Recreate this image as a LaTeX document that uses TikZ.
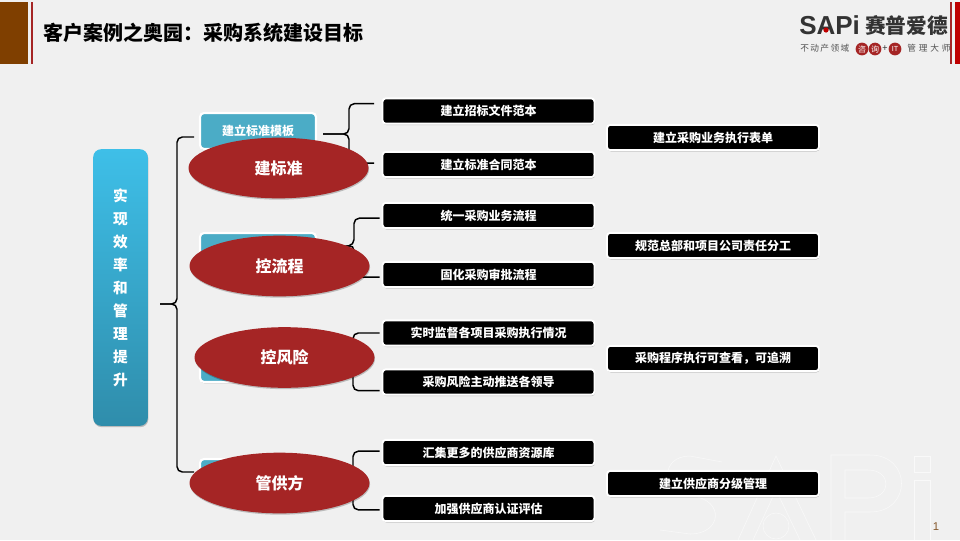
\documentclass[tikz,border=0pt]{standalone}
\usepackage{fontspec}
\setmainfont{Noto Sans CJK SC}
\setsansfont{Liberation Sans}
\usetikzlibrary{shadows,shapes.geometric,calc}
\definecolor{bgc}{HTML}{F0F0F0}
\definecolor{brownc}{HTML}{7F3F00}
\definecolor{redc}{HTML}{A52525}
\definecolor{tealc}{HTML}{4BACC6}
\definecolor{rooty}{HTML}{3EBFE8}
\definecolor{rootb}{HTML}{2F8DAB}
\definecolor{logoc}{HTML}{333333}
\tikzset{
  x=0.75pt,y=-0.75pt,
  softshadow/.style={drop shadow={shadow xshift=0.4pt,shadow yshift=-1pt,opacity=0.22,fill=black}},
  blk/.style={rectangle,rounded corners=2.5pt,fill=black,draw=white,line width=1.4pt,
    minimum width=159pt,minimum height=19pt,inner sep=0pt,text=white,
    font=\fontsize{9}{11}\selectfont\bfseries,softshadow},
  tealbox/.style={rectangle,rounded corners=3pt,fill=tealc,draw=white,line width=1.6pt,
    minimum width=87pt,minimum height=27pt,inner sep=0pt,text=white,
    font=\fontsize{9}{11}\selectfont\bfseries,softshadow},
  oval/.style={ellipse,fill=redc,minimum width=135pt,minimum height=45.5pt,inner sep=0pt,text=white,
    font=\fontsize{12}{14}\selectfont\bfseries,softshadow},
  conn/.style={draw=black,line width=1.1pt,rounded corners=4pt},
  wm/.style={draw=white,line width=0.4pt,opacity=0.6}
}
\begin{document}
\begin{tikzpicture}
\useasboundingbox (0,0) rectangle (960,540);
\fill[bgc] (0,0) rectangle (960,540);
% watermark
\draw[wm] (722,462) -- (690,456) .. controls (660,456) and (660,492) .. (692,496) .. controls (725,500) and (722,534) .. (690,534) -- (660,530);
\draw[wm] (738,540) -- (776,456) -- (816,540);
\draw[wm] (753,540) -- (776,490) -- (800,540);
\draw[wm] (776,526) circle (13);
\draw[wm] (831,540) -- (831,455) -- (870,455) .. controls (912,455) and (912,512) .. (870,512) -- (845,512) -- (845,540);
\draw[wm] (845,498) -- (845,470) -- (868,470) .. controls (892,470) and (892,498) .. (868,498) -- cycle;
\draw[wm] (914,456) rectangle (930,472);
\draw[wm] (914,540) -- (914,480) -- (930,480) -- (930,540);
% header
\fill[brownc] (0,2) rectangle (28,64);
\fill[redc] (31,2) rectangle (33,64);
\node[anchor=west,inner sep=0pt,font=\fontsize{15}{18}\selectfont\bfseries] (title) at (43.5,33) {客户案例之奥园^^^^ff1a采购系统建设目标};
\fill[redc] (950,2) rectangle (952,64);
\fill[red!75!black] (955,2) rectangle (960,64);
% logo
\node[anchor=west,inner sep=0pt,text=logoc,font=\sffamily\bfseries\fontsize{19.5}{22}\selectfont] (logoa) at (799,25) {SAPi};
\fill[red!75!black] (826,30) circle (2.6);
\node[anchor=west,inner sep=0pt,text=logoc,font=\fontsize{15.5}{18}\selectfont\bfseries] (logob) at (865,25) {赛普爱德};
\node[anchor=west,inner sep=0pt,text=logoc!85,font=\fontsize{6.5}{8}\selectfont] (logoc1) at (800,48) {不\,动\,产\,领\,域};
\node[circle,fill=redc,inner sep=0.5pt,text=white,font=\fontsize{6}{7}\selectfont] (logoc2) at (862,49) {咨};
\node[circle,fill=redc,inner sep=0.5pt,text=white,font=\fontsize{6}{7}\selectfont] (logoc3) at (875,49) {询};
\node[inner sep=0pt,text=logoc,font=\fontsize{7}{8}\selectfont] (logoc4) at (885,49) {+};
\node[circle,fill=redc,inner sep=1.2pt,text=white,font=\sffamily\fontsize{5.5}{6}\selectfont] (logoc5) at (895,49) {IT};
\node[anchor=west,inner sep=0pt,text=logoc!85,font=\fontsize{6.5}{8}\selectfont] (logoc6) at (907,48) {管\,\,理\,\,大\,\,师};
% root
\node[rectangle,rounded corners=6pt,top color=rooty,bottom color=rootb,minimum width=41pt,minimum height=207.5pt,
  inner sep=0pt,text=white,align=center,font=\fontsize{11}{17.25}\selectfont\bfseries,softshadow] (root) at (120.5,287.5)
  {实\\现\\效\\率\\和\\管\\理\\提\\升};
% middle boxes
\node[tealbox] (m1) at (258,131) {建立标准模板};
\node[tealbox] (m2) at (258,251) {};
\node[tealbox] (m3) at (258,364) {};
\node[tealbox] (m4) at (258,477) {};
% leaves
\node[blk] (t1) at (488.5,111) {建立招标文件范本};
\node[blk] (t2) at (488.5,164.5) {建立标准合同范本};
\node[blk] (t3) at (488.5,215.5) {统一采购业务流程};
\node[blk] (t4) at (488.5,274.5) {固化采购审批流程};
\node[blk] (t5) at (488.5,333) {实时监督各项目采购执行情况};
\node[blk] (t6) at (488.5,382) {采购风险主动推送各领导};
\node[blk] (t7) at (488.5,452.5) {汇集更多的供应商资源库};
\node[blk] (t8) at (488.5,508.5) {加强供应商认证评估};
\node[blk] (r1) at (713,137.5) {建立采购业务执行表单};
\node[blk] (r2) at (713,245.5) {规范总部和项目公司责任分工};
\node[blk] (r3) at (713,358.5) {采购程序执行可查看^^^^ff0c可追溯};
\node[blk] (r4) at (713,483.5) {建立供应商分级管理};
% connectors
\coordinate (hub) at (160,304);
\coordinate (e1) at (194,137);
\coordinate (e4) at (194,472);
\draw[conn] (hub) -- (177,304) |- (e1);
\draw[conn] (hub) -- (177,304) |- (e4);
\coordinate (b1) at (323,134);
\coordinate (b2) at (323,250);
\coordinate (b3) at (323,362);
\coordinate (b4) at (323,480);
\draw[conn] (b1) -- (349,134) |- ([xshift=-5.5pt,yshift=5.5pt]t1.west);
\draw[conn] (b1) -- (349,134) |- ([xshift=-5.5pt,yshift=1pt]t2.west);
\draw[conn] (b2) -- (354,245) |- ([xshift=-1.5pt,yshift=-2pt]t3.west);
\draw[conn] (b2) -- (354,245) |- ([xshift=-1.5pt,yshift=-2pt]t4.west);
\draw[conn] (b3) -- (353,362) |- ([xshift=-1.5pt]t5.west);
\draw[conn] (b3) -- (353,362) |- ([xshift=-1.5pt,yshift=-6.5pt]t6.west);
\draw[conn] (b4) -- (353,480) |- ([xshift=-1.5pt,yshift=1pt]t7.west);
\draw[conn] (b4) -- (353,480) |- ([xshift=-1.5pt,yshift=-1pt]t8.west);
% ovals
\node[oval] (o1) at (278.5,168) {建标准};
\node[oval] (o2) at (279.5,266) {控流程};
\node[oval] (o3) at (284.5,357.5) {控风险};
\node[oval] (o4) at (279.5,483) {管供方};
\node[inner sep=0pt,text=brown!70!black,font=\sffamily\fontsize{8.5}{10}\selectfont] (pg) at (936,527) {1};
\end{tikzpicture}
\end{document}
